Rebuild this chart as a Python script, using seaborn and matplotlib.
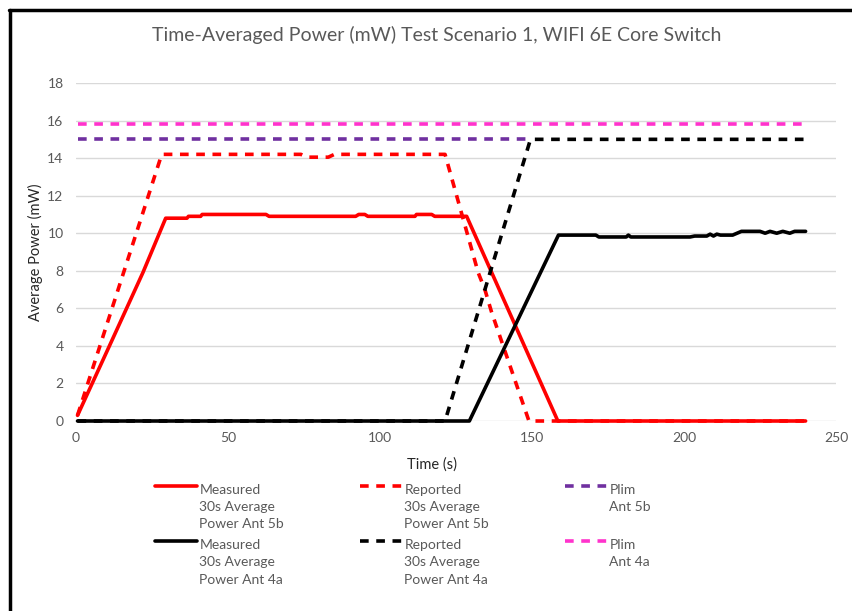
import numpy as np
import matplotlib
matplotlib.use("Agg")
import matplotlib.pyplot as plt
import seaborn as sns
from matplotlib.legend_handler import HandlerLine2D
from matplotlib.lines import Line2D

# Breakpoints: time (s) and power (mW)
meas_5b_t = [0.5, 11, 22, 29.5, 36.5, 37, 41, 41.5, 62.5, 63.5, 92, 93, 95, 96, 111.5, 112, 117, 118, 128.5, 158.5, 240]
meas_5b_v = [0.3, 4.0, 7.9, 10.8, 10.8, 10.9, 10.9, 11.0, 11.0, 10.9, 10.9, 11.0, 11.0, 10.9, 10.9, 11.0, 11.0, 10.9, 10.9, 0.0, 0.0]

rep_5b_t = [0.5, 28.2, 74, 76, 83, 85, 121.4, 132.3, 134.5, 136.7, 149, 240]
rep_5b_v = [0.3, 14.2, 14.2, 14.05, 14.05, 14.2, 14.2, 7.9, 7.0, 5.8, 0.0, 0.0]

plim_5b_t = [0.5, 150]
plim_5b_v = [15.0, 15.0]

meas_4a_t = [0.5, 129.4, 158.7, 171, 172, 181, 181.7, 182.5, 202, 203.5, 207.5, 208.6, 209.7, 210.8, 212,
             216, 218.9, 225, 226.7, 228.3, 230.5, 232.5, 234.8, 236.4, 240]
meas_4a_v = [0.0, 0.0, 9.9, 9.9, 9.8, 9.8, 9.9, 9.8, 9.8, 9.85, 9.85, 9.95, 9.85, 9.95, 9.9,
             9.9, 10.1, 10.1, 10.0, 10.1, 10.0, 10.1, 10.0, 10.1, 10.1]

rep_4a_t = [0.5, 121.4, 149.5, 240]
rep_4a_v = [0.0, 0.0, 15.0, 15.0]

plim_4a_t = [0.5, 240]
plim_4a_v = [15.8, 15.8]

labels = ["Measured\n30s Average\nPower Ant 5b", "Reported\n30s Average\nPower Ant 5b", "Plim\nAnt 5b\n ",
          "Measured\n30s Average\nPower Ant 4a", "Reported\n30s Average\nPower Ant 4a", "Plim\nAnt 4a\n "]

RED = "#FF0000"
PURPLE = "#7030A0"
MAGENTA = "#FF33CC"
GRAY = "#595959"
DASH = (0, (2.4, 2.1))
LW = 2.6
LSP = 1.52

sns.set_style("white")
plt.rcParams["font.family"] = ["Lato", "DejaVu Sans"]

fig = plt.figure(figsize=(8.52, 6.11), dpi=100)
ax = fig.add_axes([76 / 852, 1 - 421 / 611, 760 / 852, 338 / 611])

series = [
    (meas_5b_t, meas_5b_v, RED, "-"),
    (rep_5b_t, rep_5b_v, RED, DASH),
    (plim_5b_t, plim_5b_v, PURPLE, DASH),
    (meas_4a_t, meas_4a_v, "black", "-"),
    (rep_4a_t, rep_4a_v, "black", DASH),
    (plim_4a_t, plim_4a_v, MAGENTA, DASH),
]
handles = []
for (t, v, c, ls), lab in zip(series, labels):
    sns.lineplot(x=t, y=v, ax=ax, color=c, linestyle=ls, linewidth=LW, label=lab, legend=False, clip_on=False)
    handles.append(Line2D([], [], color=c, linestyle=ls, linewidth=LW))

ax.set_xlim(0, 250)
ax.set_ylim(0, 18)
ax.set_xticks(np.arange(0, 251, 50))
ax.set_yticks(np.arange(0, 19, 2))
ax.grid(axis="y", color="#D9D9D9", linewidth=1)
ax.grid(axis="x", visible=False)
ax.set_axisbelow(True)
for s in ax.spines.values():
    s.set_visible(False)
ax.tick_params(length=0, colors=GRAY, labelsize=10)
ax.tick_params(axis="y", pad=9)
ax.tick_params(axis="x", pad=8)
ax.set_xlabel("Time (s)", fontsize=10.5, color="#262626")
ax.set_ylabel("Average Power (mW)", fontsize=10.5, color="#262626")
ax.xaxis.set_label_coords((432 - 76) / 760, -36 / 338)
ax.yaxis.set_label_coords(-33 / 760, 0.5)

fig.text(437 / 852, 1 - 35 / 611, "Time-Averaged Power (mW) Test Scenario 1, WIFI 6E Core Switch",
         ha="center", va="center", fontsize=14, color=GRAY)


class TopLineHandler(HandlerLine2D):
    # put the legend sample beside the first text line, like Excel does
    def create_artists(self, legend, orig_handle, xdescent, ydescent, width, height, fontsize, trans):
        arts = super().create_artists(legend, orig_handle, xdescent, ydescent, width, height, fontsize, trans)
        for a in arts:
            a.set_ydata(np.asarray(a.get_ydata()) + LSP * fontsize)
        return arts


hd = TopLineHandler()
for col, x0 in enumerate([155, 360, 565]):
    hs = [handles[col], handles[col + 3]]
    labs = [labels[col], labels[col + 3]]
    leg = fig.legend(hs, labs, loc="upper left", bbox_to_anchor=(x0 / 852, 1 - 484 / 611),
                     frameon=False, fontsize=10, borderpad=0, borderaxespad=0,
                     handlelength=3.0, handletextpad=0.2, labelspacing=0.63,
                     handler_map={h: hd for h in hs})
    for t in leg.get_texts():
        t.set_color(GRAY)
        t.set_linespacing(LSP)

# chart frame edges visible in the screenshot
fig.add_artist(Line2D([10 / 852, 10 / 852], [0, 1 - 10 / 611], color="black", linewidth=2.5))
fig.add_artist(Line2D([9 / 852, 1], [1 - 10 / 611, 1 - 10 / 611], color="black", linewidth=2.5))

fig.savefig("out.png", dpi=100)
